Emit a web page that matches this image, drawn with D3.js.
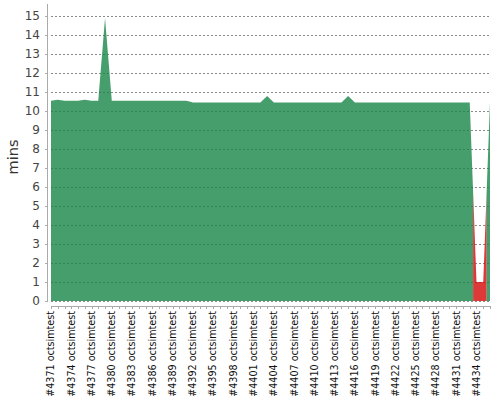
<!DOCTYPE html>
<html>
<head>
<meta charset="utf-8">
<script src="https://cdn.jsdelivr.net/npm/d3@7/dist/d3.min.js"></script>
<style>
  html, body { margin: 0; padding: 0; background: #fff; }
  svg { display: block; font-family: "DejaVu Sans", sans-serif; }
</style>
</head>
<body>
<svg id="chart" width="500" height="400"></svg>
<script>
// ---- data ----
const builds = [4371,4372,4373,4374,4375,4376,4377,4378,4379,4380,
                4381,4382,4383,4384,4385,4386,4387,4388,4389,4390,
                4391,4392,4393,4394,4395,4396,4397,4398,4399,4400,
                4401,4402,4403,4404,4405,4406,4407,4408,4409,4410,
                4411,4412,4413,4414,4415,4416,4417,4418,4419,4420,
                4421,4422,4423,4424,4425,4426,4427,4428,4429,4430,
                4431,4432,4433,4434,4435,4436];
const durations = [10.55,10.6,10.55,10.55,10.55,10.6,10.55,10.55,14.9,10.55,
                   10.55,10.55,10.55,10.55,10.55,10.55,10.55,10.55,10.55,10.55,
                   10.55,10.45,10.45,10.45,10.45,10.45,10.45,10.45,10.45,10.45,
                   10.45,10.45,10.8,10.45,10.45,10.45,10.45,10.45,10.45,10.45,
                   10.45,10.45,10.45,10.45,10.8,10.45,10.45,10.45,10.45,10.45,
                   10.45,10.45,10.45,10.45,10.45,10.45,10.45,10.45,10.45,10.45,
                   10.45,10.45,10.45,1.0,1.0,10.45];
const results = ["success","success","success","success","success","success","success","success","success","success",
                 "success","success","success","success","success","success","success","success","success","success",
                 "success","success","success","success","success","success","success","success","success","success",
                 "success","success","success","success","success","success","success","success","success","success",
                 "success","success","success","success","success","success","success","success","success","success",
                 "success","success","success","success","success","success","success","success","success","success",
                 "success","success","success","failure","failure","success"];
const yTicks = [0,1,2,3,4,5,6,7,8,9,10,11,12,13,14,15];
const jobName = "octsimtest";
const yLabel = "mins";

// ---- layout ----
const plot = { left: 51, right: 490, top: 4, bottom: 301 };
const svg = d3.select("#chart");

const x = d3.scalePoint().domain(builds).range([plot.left, plot.right]);
const y = d3.scaleLinear().domain([0, 15.64]).range([plot.bottom, plot.top]);
const step = x.step();
const colors = { success: "rgb(24,134,71)", failure: "rgb(212,8,8)" };

// clip
svg.append("defs").append("clipPath").attr("id", "clip")
  .append("rect").attr("x", plot.left).attr("y", plot.top)
  .attr("width", plot.right - plot.left).attr("height", plot.bottom - plot.top);

// gridlines
svg.append("g").selectAll("line").data(yTicks).join("line")
  .attr("x1", plot.left).attr("x2", plot.right)
  .attr("y1", d => Math.round(y(d)) + 0.5).attr("y2", d => Math.round(y(d)) + 0.5)
  .attr("stroke", "#8a8a8a").attr("stroke-width", 1)
  .attr("stroke-dasharray", "2,2");

// area: per-build segments (JFreeChart StackedAreaRenderer2 style), merged into runs of equal result
const area = d3.area().x(d => d.x).y0(y(0)).y1(d => y(d.v));
const runs = [];
builds.forEach((b, i) => {
  const v = durations[i];
  const prev = i > 0 ? durations[i - 1] : v;
  const next = i < builds.length - 1 ? durations[i + 1] : v;
  const xc = x(b);
  const pts = [
    { x: xc - step / 2, v: (prev + v) / 2 },
    { x: xc, v: v },
    { x: xc + step / 2, v: (v + next) / 2 }
  ];
  const last = runs[runs.length - 1];
  if (last && last.result === results[i]) last.pts.push(...pts.slice(1));
  else runs.push({ result: results[i], pts: pts });
});
svg.append("g").attr("clip-path", "url(#clip)")
  .selectAll("path").data(runs).join("path")
  .attr("d", d => area(d.pts))
  .attr("fill", d => colors[d.result])
  .attr("fill-opacity", 0.8);

// y axis
const yAxisX = 47.5;
svg.append("line").attr("x1", yAxisX).attr("x2", yAxisX)
  .attr("y1", plot.top).attr("y2", plot.bottom + 1)
  .attr("stroke", "#aaa").attr("stroke-width", 1);
const yg = svg.append("g");
yg.selectAll("line").data(yTicks).join("line")
  .attr("x1", 45).attr("x2", yAxisX)
  .attr("y1", d => Math.round(y(d)) + 0.5).attr("y2", d => Math.round(y(d)) + 0.5)
  .attr("stroke", "#aaa");
yg.selectAll("text").data(yTicks).join("text")
  .attr("x", 40).attr("y", d => y(d))
  .attr("dy", "0.36em")
  .attr("text-anchor", "end")
  .attr("font-size", "12px")
  .attr("fill", "#444")
  .text(d => d);

svg.append("text")
  .attr("transform", `translate(18,157) rotate(-90)`)
  .attr("text-anchor", "middle")
  .attr("font-size", "14.5px")
  .attr("fill", "#333")
  .text(yLabel);

// x axis
const xAxisY = 306.5;
svg.append("line").attr("x1", plot.left).attr("x2", plot.right + 1)
  .attr("y1", xAxisY).attr("y2", xAxisY)
  .attr("stroke", "#aaa");
const xg = svg.append("g");
xg.selectAll("line").data(builds).join("line")
  .attr("x1", d => Math.round(x(d)) + 0.5).attr("x2", d => Math.round(x(d)) + 0.5)
  .attr("y1", xAxisY).attr("y2", xAxisY + 2.5)
  .attr("stroke", "#aaa");
xg.selectAll("text").data(builds.filter((b, i) => i % 3 === 0)).join("text")
  .attr("transform", d => `translate(${x(d)},311) rotate(-90)`)
  .attr("dy", "0.35em")
  .attr("text-anchor", "end")
  .attr("font-size", "9.6px")
  .attr("fill", "#111")
  .text(d => `#${d} ${jobName}`);
</script>
</body>
</html>
